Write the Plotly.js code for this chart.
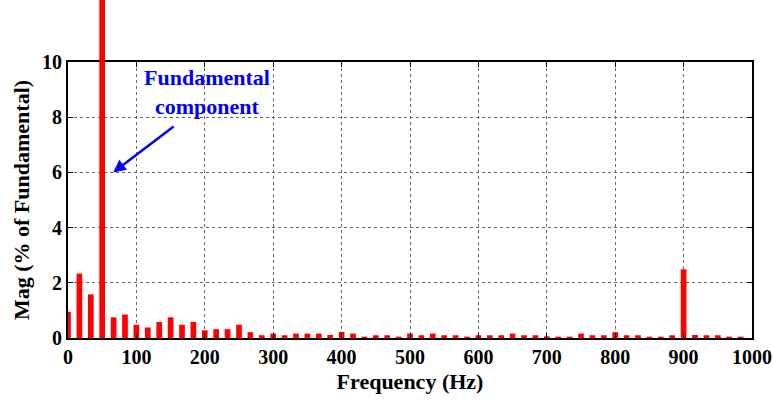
<!DOCTYPE html>
<html><head><meta charset="utf-8">
<script src="https://cdn.plot.ly/plotly-3.0.1.min.js"></script>
<style>html,body{margin:0;padding:0;background:#fff}#chart{width:773px;height:402px}</style>
</head><body><div id="chart"></div>
<script>
const frequencies = [0,16.67,33.33,50,66.67,83.33,100,116.67,133.33,150,166.67,183.33,200,216.67,233.33,250,266.67,283.33,300,316.67,333.33,350,366.67,383.33,400,416.67,433.33,450,466.67,483.33,500,516.67,533.33,550,566.67,583.33,600,616.67,633.33,650,666.67,683.33,700,716.67,733.33,750,766.67,783.33,800,816.67,833.33,850,866.67,883.33,900,916.67,933.33,950,966.67,983.33];
const magnitudes = [0.95,2.33,1.58,100,0.75,0.85,0.48,0.38,0.58,0.75,0.48,0.58,0.28,0.32,0.32,0.48,0.21,0.10,0.16,0.10,0.16,0.16,0.16,0.11,0.22,0.16,0.05,0.10,0.10,0.05,0.16,0.10,0.16,0.10,0.10,0.05,0.10,0.10,0.10,0.16,0.10,0.10,0.06,0.05,0.05,0.16,0.10,0.10,0.21,0.10,0.10,0.05,0.05,0.10,2.49,0.11,0.10,0.10,0.05,0.05];
const fundamentalFreq = 50;
const xTicks = [0,100,200,300,400,500,600,700,800,900,1000];
const yTicks = [0,2,4,6,8,10];
const annotationText = 'Fundamental<br>component';
const xTitle = 'Frequency (Hz)';
const yTitle = 'Mag (% of Fundamental)';

const barWidth = 8.33;
const mainY = magnitudes.map((v,i)=> frequencies[i]===fundamentalFreq ? null : v);
const fundIdx = frequencies.indexOf(fundamentalFreq);

const FONT = '"Liberation Serif", "Times New Roman", Times, "DejaVu Serif", serif';
const plotBottomPx = 338, plotTopPx = 62, H = 402, marginB = H - plotBottomPx;
const domTop = (plotBottomPx - plotTopPx) / plotBottomPx;
const yMax2 = 10 / domTop;

const traces = [
  {type:'bar', x:frequencies, y:mainY, width:barWidth, marker:{color:'#ff0000', line:{width:0}}, xaxis:'x', yaxis:'y', hoverinfo:'skip'},
  {type:'bar', x:[frequencies[fundIdx]], y:[magnitudes[fundIdx]], width:barWidth, marker:{color:'#ff0000', line:{width:0}}, xaxis:'x2', yaxis:'y2', hoverinfo:'skip'}
];

const layout = {
  width:773, height:402,
  margin:{l:68, r:21, t:0, b:marginB},
  paper_bgcolor:'#ffffff', plot_bgcolor:'rgba(0,0,0,0)',
  showlegend:false,
  font:{family:FONT, color:'#000'},
  xaxis:{range:[0,1000], domain:[0,1], anchor:'y', tickvals:xTicks, ticktext:xTicks.map(String),
    tickfont:{family:FONT, size:20, color:'#000', weight:'bold'},
    showgrid:true, gridcolor:'#666', griddash:'dot', gridwidth:1,
    showline:true, linecolor:'#000', linewidth:2, mirror:'ticks',
    ticks:'inside', ticklen:5, tickcolor:'#000', zeroline:false,
    title:{text:xTitle, font:{family:FONT, size:22, color:'#000', weight:'bold'}, standoff:7}},
  yaxis:{range:[0,10], domain:[0,domTop], anchor:'x', tickvals:yTicks, ticktext:yTicks.map(String),
    tickfont:{family:FONT, size:20, color:'#000', weight:'bold'},
    showgrid:true, gridcolor:'#666', griddash:'dot', gridwidth:1,
    showline:true, linecolor:'#000', linewidth:2, mirror:'ticks',
    ticks:'inside', ticklen:5, tickcolor:'#000', zeroline:false,
    title:{text:yTitle, font:{family:FONT, size:22, color:'#000', weight:'bold'}, standoff:6}},
  xaxis2:{range:[0,1000], domain:[0,1], anchor:'y2', visible:false, showgrid:false, zeroline:false},
  yaxis2:{range:[0,yMax2], domain:[0,1], anchor:'x2', visible:false, showgrid:false, zeroline:false},
  annotations:[
    {xref:'x', yref:'y', x:66, y:6.0, ax:62, ay:-47, axref:'pixel', ayref:'pixel', text:'', showarrow:true,
     arrowhead:2, arrowsize:1, arrowwidth:2.5, arrowcolor:'#0000ff'},
    {xref:'x', yref:'y', x:203, y:8.9, text:annotationText, showarrow:false,
     font:{family:FONT, size:22, color:'#0000ff', weight:'bold'}, align:'center'}
  ]
};
Plotly.newPlot('chart', traces, layout, {displayModeBar:false, staticPlot:true});
</script></body></html>
